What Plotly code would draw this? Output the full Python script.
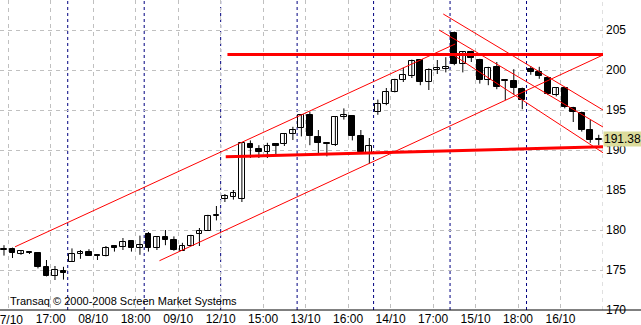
import plotly.graph_objects as go

# ---- candle data (hourly) ----
opens = [177.5, 177.6, 177.0, 177.25, 177.1, 175.4, 174.2, 174.9,
         176.0, 177.0, 177.2, 176.9, 176.7, 178.0, 177.9, 178.6, 177.7,
         179.5, 177.7, 179.1, 178.7, 177.4, 178.0, 179.5, 179.9, 181.8,
         183.9, 184.1, 183.9, 190.8, 190.1, 189.7, 190.7, 190.8, 192.0,
         192.8, 194.4, 191.6, 190.8, 190.6, 194.1, 194.25, 191.7, 189.5,
         194.7, 195.8, 197.2, 198.8, 199.25, 201.2, 198.5, 200.0, 200.1,
         204.6, 200.7, 202.2, 201.3, 198.8, 200.4, 198.6, 198.6, 197.6,
         200.1, 199.8, 199.0, 196.9, 197.7, 195.3, 194.6, 192.5, 191.2]
highs = [178.1, 177.8, 177.5, 177.35, 177.1, 176.25, 175.5, 175.4,
         177.7, 177.5, 177.6, 176.95, 178.0, 178.1, 179.0, 178.6, 179.3,
         179.75, 179.2, 180.0, 179.2, 178.4, 179.4, 180.25, 181.9, 183.0,
         184.5, 185.0, 191.0, 191.2, 190.6, 190.9, 190.8, 192.1, 192.9,
         194.5, 194.8, 192.5, 190.85, 194.2, 195.2, 194.3, 192.5, 191.5,
         196.3, 197.75, 198.9, 200.3, 201.3, 201.3, 200.2, 201.25, 201.6,
         204.8, 202.3, 202.4, 201.4, 200.4, 201.0, 198.8, 200.1, 197.8,
         200.5, 200.4, 199.2, 197.8, 197.9, 195.4, 194.8, 193.75, 191.9]
lows = [176.8, 176.5, 176.9, 177.0, 175.2, 174.2, 173.75, 173.8,
        176.0, 176.4, 176.8, 176.25, 176.7, 177.3, 177.5, 177.3, 176.9,
        177.3, 177.5, 178.1, 177.4, 177.4, 178.0, 178.0, 179.9, 181.2,
        183.5, 183.8, 183.5, 189.0, 189.0, 189.0, 189.4, 190.5, 191.25,
        191.7, 190.6, 189.6, 189.2, 190.5, 193.8, 191.2, 189.5, 188.3,
        194.4, 195.6, 197.2, 198.5, 199.0, 198.1, 197.5, 199.5, 199.7,
        200.6, 199.7, 201.0, 198.3, 198.1, 197.6, 196.25, 196.9, 195.1,
        199.4, 198.9, 196.9, 196.7, 195.2, 193.5, 192.3, 190.9, 190.6]
closes = [177.6, 177.1, 177.4, 177.1, 175.4, 174.3, 175.0, 174.6,
          177.0, 177.2, 176.8, 176.7, 177.7, 177.8, 178.5, 177.8, 178.1,
          177.8, 179.1, 178.7, 177.5, 178.0, 179.3, 179.9, 181.8, 181.9,
          184.2, 184.6, 190.9, 190.2, 189.8, 190.5, 190.5, 192.0, 192.5,
          194.4, 191.7, 190.9, 190.85, 194.1, 194.4, 191.7, 189.7, 190.5,
          195.8, 197.2, 198.8, 199.4, 201.1, 198.5, 200.0, 200.2, 200.4,
          200.8, 202.2, 201.5, 198.75, 200.2, 197.9, 198.7, 197.7, 196.25,
          199.8, 199.2, 197.0, 197.7, 195.4, 194.8, 192.5, 191.2, 191.38]

tick_pos = [0.5, 5.5, 10.5, 15.5, 20.5, 25.5, 30.5, 35.5, 40.5, 45.5,
            50.5, 55.5, 60.5, 65.5]
tick_text = ["07/10", "17:00", "08/10", "18:00", "09/10", "12/10", "15:00",
             "13/10", "16:00", "14/10", "17:00", "15/10", "18:00", "16/10"]
day_breaks = [7.5, 16.5, 25.5, 34.5, 43.5, 52.5, 61.5]
y_ticks = [170, 175, 180, 185, 190, 195, 200, 205]

# trend lines: (x0, y0, x1, y1) in candle index / price
thin_lines = [
    (1.3, 177.9, 53.1, 203.25),     # upper ascending channel
    (18.3, 176.16, 70.5, 201.875),  # lower ascending channel
    (51.7, 207.0, 70.5, 195.0),     # descending upper
    (51.2, 205.0, 70.5, 192.875),   # descending middle
    (53.0, 201.8, 70.5, 189.66),    # descending lower
]
thick_lines = [
    (26.3, 201.94, 70.5, 201.94),   # resistance
    (26.1, 189.16, 70.5, 190.41),   # support
]
last_price = 191.38

fig = go.Figure()

# wicks
wx, wy = [], []
for i, (h, l) in enumerate(zip(highs, lows)):
    wx += [i, i, None]
    wy += [l, h, None]
fig.add_trace(go.Scatter(x=wx, y=wy, mode="lines",
                         line=dict(color="black", width=1),
                         hoverinfo="skip", showlegend=False))

# bodies
for up in (True, False):
    xs, bases, hs = [], [], []
    for i, (o, c) in enumerate(zip(opens, closes)):
        if (c >= o) == up:
            xs.append(i)
            lo, hi = min(o, c), max(o, c)
            if hi - lo < 0.06:
                hi = lo + 0.06
            bases.append(lo)
            hs.append(hi - lo)
    fig.add_trace(go.Bar(x=xs, y=hs, base=bases, width=0.68,
                         marker=dict(color="white" if up else "black",
                                     line=dict(color="black", width=1)),
                         showlegend=False, hoverinfo="skip"))

shapes = []
for d in day_breaks:
    shapes.append(dict(type="line", xref="x", yref="paper", x0=d, x1=d,
                       y0=0, y1=1, line=dict(color="#000080", width=1, dash="3px,3px"),
                       layer="below"))
shapes.append(dict(type="line", xref="x", yref="paper", x0=70.5, x1=70.5,
                   y0=0, y1=1, line=dict(color="#c0c0c0", width=1, dash="4px,4px")))
for (x0, y0, x1, y1) in thin_lines:
    shapes.append(dict(type="line", x0=x0, y0=y0, x1=x1, y1=y1,
                       line=dict(color="red", width=1)))
for (x0, y0, x1, y1) in thick_lines:
    shapes.append(dict(type="line", x0=x0, y0=y0, x1=x1, y1=y1,
                       line=dict(color="red", width=3)))
shapes.append(dict(type="line", xref="paper", yref="paper", x0=0, x1=641 / 603,
                   y0=0, y1=0, line=dict(color="black", width=1)))

fig.update_layout(
    width=641, height=325,
    margin=dict(l=0, r=38, t=0, b=15),
    paper_bgcolor="white", plot_bgcolor="white",
    barmode="overlay", bargap=0,
    shapes=shapes,
    font=dict(family="Liberation Sans, Arial, sans-serif", size=12, color="black"),
    xaxis=dict(range=[-0.47, 70.5], tickvals=tick_pos,
               ticktext=[""] + tick_text[1:],
               showgrid=True, gridcolor="#c0c0c0", griddash="4px,4px", gridwidth=1,
               zeroline=False, ticks="", showline=False, ticklabelstandoff=0,
               tickfont=dict(size=12)),
    yaxis=dict(range=[170, 208.75], side="right", tickvals=y_ticks,
               showgrid=True, gridcolor="#c0c0c0", griddash="4px,4px", gridwidth=1,
               zeroline=False, ticks="", showline=False, ticklabelstandoff=2,
               tickfont=dict(size=12)),
    annotations=[
        dict(xref="x", yref="paper", x=tick_pos[0], y=0, yshift=-1,
             text=tick_text[0], showarrow=False, xanchor="center", yanchor="top",
             font=dict(size=12, color="black")),
        dict(xref="paper", yref="paper", x=8 / 603, y=(310 - 301) / 310,
             text="Transaq © 2000-2008 Screen Market Systems", showarrow=False,
             xanchor="left", yanchor="middle", font=dict(size=11, color="black")),
        dict(xref="paper", yref="y", x=1, y=last_price, text=f"{last_price:.2f}",
             showarrow=False, xanchor="left", yanchor="middle",
             bgcolor="#dcdc9c", borderpad=0, font=dict(size=12, color="black")),
    ],
)

fig.write_html("out.html")
